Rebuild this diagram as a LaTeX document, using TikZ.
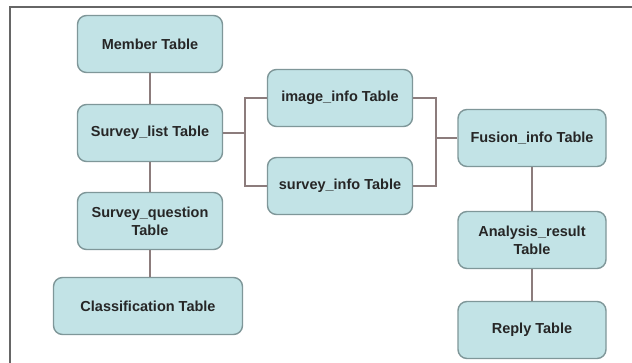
\documentclass[tikz,border=0pt]{standalone}
\usepackage{fontspec}
\setmainfont{Liberation Sans}
\begin{document}
\begin{tikzpicture}[x=1pt,y=-1pt,
  tbl/.style={draw=boxline,fill=boxfill,line width=1.4pt,rounded corners=9pt,
    minimum width=145pt,minimum height=57pt,align=center,
    font=\fontsize{14.5}{18}\selectfont\bfseries,text=black!85},
  conn/.style={draw=connline,line width=1.1pt}]
\definecolor{boxfill}{HTML}{C2E3E6}
\definecolor{boxline}{HTML}{7F9799}
\definecolor{connline}{HTML}{8C7C7C}
\useasboundingbox (0,0) rectangle (632,363);
\fill[white] (0,0) rectangle (632,363);
\draw[black!60,line width=1.6pt] (10,363) -- (10,7) -- (632,7);
\node[tbl] (member) at (150,44) {Member Table};
\node[tbl] (slist) at (150,133) {Survey\_list Table};
\node[tbl] (squest) at (150,221) {Survey\_question\\Table};
\node[tbl,minimum width=189pt] (class) at (148,306) {Classification Table};
\node[tbl] (image) at (340,98) {image\_info Table};
\node[tbl] (sinfo) at (340,186) {survey\_info Table};
\node[tbl,minimum width=148pt] (fusion) at (532,138) {Fusion\_info Table};
\node[tbl,minimum width=148pt] (anal) at (532,240) {Analysis\_result\\Table};
\node[tbl,minimum width=148pt] (reply) at (532,330) {Reply Table};
\coordinate (lb) at (245,133);
\coordinate (rb) at (436,138);
\draw[conn] (member) -- (slist);
\draw[conn] (slist) -- (squest);
\draw[conn] (squest.south) -- (squest.south |- class.north);
\draw[conn] (slist.east) -- (lb);
\draw[conn] (image.west) -| (lb) |- (sinfo.west);
\draw[conn] (image.east) -| (rb) |- (sinfo.east);
\draw[conn] (rb) -- (fusion.west);
\draw[conn] (fusion) -- (anal);
\draw[conn] (anal) -- (reply);
\end{tikzpicture}
\end{document}
